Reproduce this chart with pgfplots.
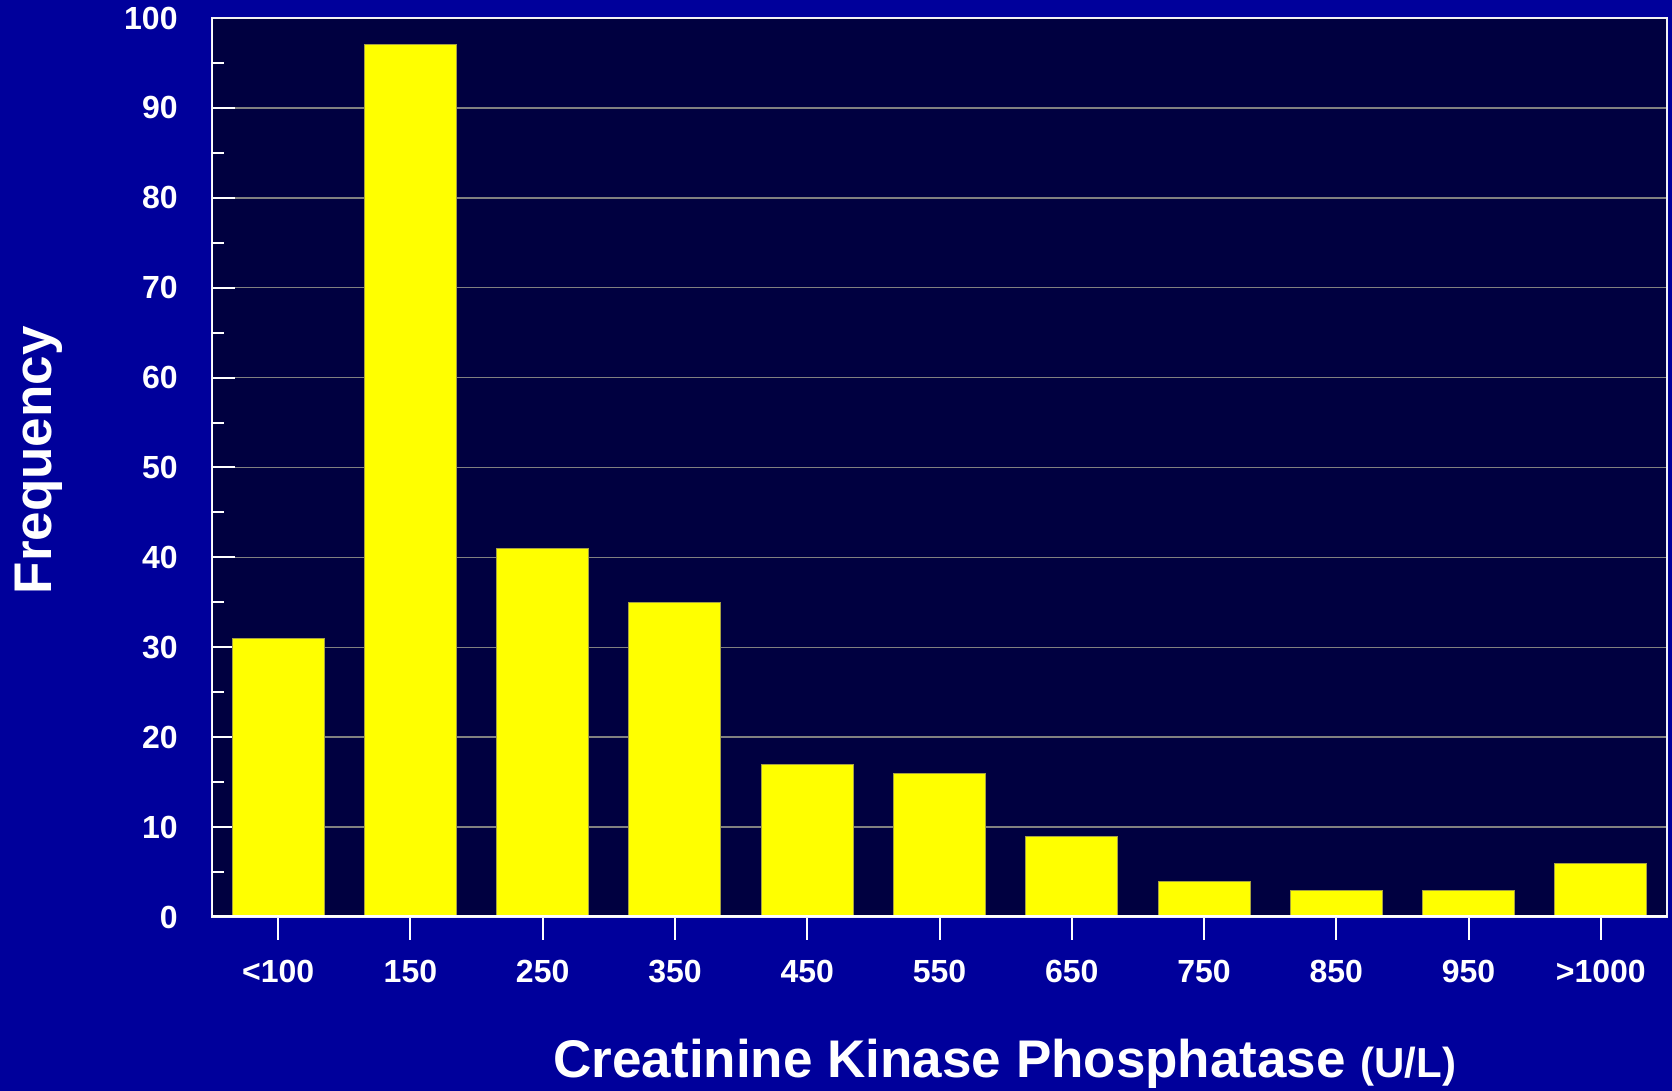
\documentclass[border=0pt]{standalone}
\usepackage{fontspec}
\setmainfont{Liberation Sans}
\usepackage{pgfplots}
\pgfplotsset{compat=1.18}
\definecolor{bgblue}{RGB}{0,0,155}
\definecolor{plotnavy}{RGB}{0,0,64}
\definecolor{gridgray}{RGB}{128,128,128}
\definecolor{baryellow}{RGB}{255,255,0}
\begin{document}
\begin{tikzpicture}
\path[use as bounding box, fill=bgblue] (-106pt,-87pt) rectangle (730pt,458.5pt);
\begin{axis}[
  at={(0,0)}, anchor=south west,
  scale only axis, width=727.5pt, height=449.5pt,
  xmin=-0.5, xmax=10.5, ymin=0, ymax=100,
  axis background/.style={fill=plotnavy},
  axis line style={white!90!gray, line width=1pt},
  xtick={0,...,10},
  xticklabels={<100,150,250,350,450,550,650,750,850,950,>1000},
  ytick={0,10,...,100},
  minor y tick num=1,
  ymajorgrids, major grid style={gridgray, line width=0.75pt},
  tick align=inside,
  xtick pos=bottom, ytick pos=left,
  major tick length=11.5pt, minor tick length=6pt,
  tick style={white, line width=1pt},
  x tick style={white, line width=1pt, yshift=-11.5pt},
  /pgf/number format/assume math mode=true,
  tick label style={font=\bfseries\fontsize{16}{19}\selectfont, text=white},
  yticklabel style={anchor=east, inner sep=0pt, xshift=-17pt},
  xticklabel style={anchor=base, inner sep=0pt, yshift=-33pt},
  xlabel={Creatinine Kinase Phosphatase {\fontsize{21}{24}\selectfont(U/L)}},
  xlabel style={at={(axis description cs:0.545,-0.178)}, anchor=base, inner sep=0pt,
    font=\bfseries\fontsize{26.5}{32}\selectfont, text=white},
  ylabel={Frequency},
  ylabel style={at={(axis description cs:-0.110,0.508)}, anchor=base, inner sep=0pt,
    font=\bfseries\fontsize{26.5}{32}\selectfont, text=white},
]
\addplot[ybar, bar width=46pt, fill=baryellow, draw=yellow!60!black, line width=0.5pt]
  coordinates {(0,31) (1,97) (2,41) (3,35) (4,17) (5,16) (6,9) (7,4) (8,3) (9,3) (10,6)};
\draw[white, line width=1.5pt] (rel axis cs:0,1) -- (rel axis cs:0,0) -- (rel axis cs:1,0);
\end{axis}
\end{tikzpicture}
\end{document}
